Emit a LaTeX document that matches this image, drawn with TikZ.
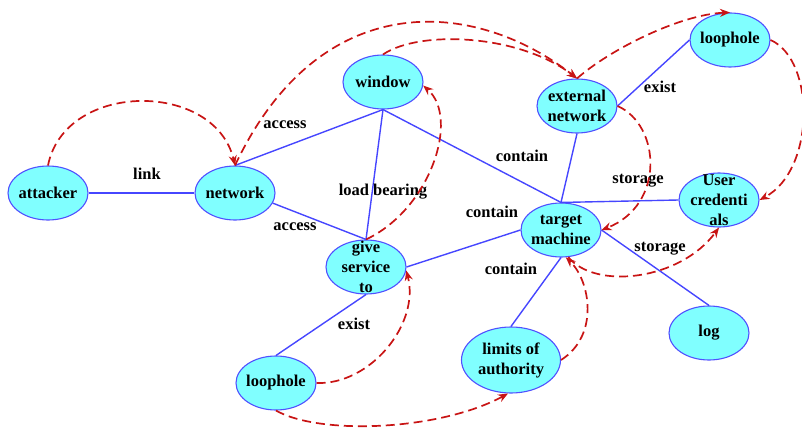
\documentclass[tikz,border=0pt]{standalone}
\usepackage{fontspec}
\setmainfont{Liberation Serif}
\usetikzlibrary{shapes.geometric,arrows.meta}
\definecolor{entfill}{RGB}{128,255,255}
\definecolor{entline}{RGB}{80,80,255}
\definecolor{linkblue}{RGB}{70,70,255}
\definecolor{flowred}{RGB}{200,20,20}
\begin{document}
\begin{tikzpicture}[x=1pt,y=-1pt,
  ent/.style={ellipse, draw=entline, line width=1.1pt, fill=entfill,
              minimum width=80pt, minimum height=54pt, inner sep=0pt},
  bigent/.style={ent, minimum width=99pt, minimum height=66pt},
  txt/.style={font=\fontsize{16.5}{20}\selectfont\bfseries, align=center, inner sep=0pt},
  elbl/.style={font=\fontsize{16.5}{20}\selectfont\bfseries, inner sep=0pt},
  rel/.style={draw=linkblue, line width=1.4pt},
  flow/.style={draw=flowred, line width=1.7pt, dash pattern=on 9pt off 5pt,
               -{Stealth[length=10pt,width=8pt]}}]
\useasboundingbox (0,0) rectangle (802,428);

% entities
\node[ent, label={[txt]center:attacker}] (att) at (48,193) {};
\node[ent, label={[txt]center:network}] (net) at (235,193) {};
\node[ent, label={[txt]center:window}] (win) at (383,82) {};
\node[ent, label={[txt]center:{external\\network}}] (ext) at (577,106) {};
\node[ent, label={[txt]center:loophole}] (lp1) at (730,40) {};
\node[ent, label={[txt]center:{User\\credenti\\als}}] (uc) at (719,200) {};
\node[ent, label={[txt]center:{target\\machine}}] (tm) at (561,230) {};
\node[ent, label={[txt]center:{give\\service\\to}}] (gs) at (366,267) {};
\node[ent, label={[txt]center:loophole}] (lp2) at (276,383) {};
\node[bigent, label={[txt]center:{limits of\\authority}}] (lim) at (511,360) {};
\node[ent, label={[txt]center:log}] (log) at (709,333) {};

% relations
\draw[rel] (att.east) -- (net.west);
\draw[rel] (net.north) -- (win.south);
\draw[rel] (net.-15) -- (gs.north);
\draw[rel] (win.south) -- (gs.north);
\draw[rel] (win.south) -- (tm.north);
\draw[rel] (ext.south) -- (tm.north);
\draw[rel] (ext.east) -- (lp1.west);
\draw[rel] (tm.north) -- (uc.west);
\draw[rel] (tm.west) -- (gs.east);
\draw[rel] (tm.south) -- (lim.north);
\draw[rel] (tm.east) -- (log.north);
\draw[rel] (gs.south) -- (lp2.north);

% relation labels
\node[elbl] (l1) at (147,174) {link};
\node[elbl] (l2) at (285,125) {access};
\node[elbl] (l3) at (295,227) {access};
\node[elbl] (l4) at (383,192) {load bearing};
\node[elbl] (l5) at (522,156) {contain};
\node[elbl] (l6) at (492,212) {contain};
\node[elbl] (l7) at (511,269) {contain};
\node[elbl] (l8) at (660,87) {exist};
\node[elbl] (l9) at (638,181) {storage};
\node[elbl] (l10) at (660,249) {storage};
\node[elbl] (l11) at (354,324) {exist};

% attack flow
\draw[flow] (att.north) .. controls +(17,-85) and +(-20,-85) .. (net.north);
\draw[flow] (net.north) .. controls +(85,-180) and +(-102,-80) .. (ext.north);
\draw[flow] (win.north) .. controls +(37,-25) and +(-57,-44) .. (ext.north);
\draw[flow] (ext.north) .. controls +(33,-29) and +(-50,2) .. (lp1.north);
\draw[flow] (lp1.east) .. controls +(45,20) and +(56,-30) .. (uc.east);
\draw[flow] (ext.east) .. controls +(43,19) and +(64,-25) .. (tm.east);
\draw[flow] (tm.-75) .. controls +(27,33) and +(-39,53) .. (uc.south);
\draw[flow] (lim.east) .. controls +(39,-25) and +(24,23) .. (tm.-80);
\draw[flow] (lp2.east) .. controls +(54,2) and +(14,53) .. (gs.-5);
\draw[flow] (lp2.south) .. controls +(44,25) and +(-68,37) .. (lim.-95);
\draw[flow] (gs.north) .. controls +(64,-30) and +(37,33) .. (win.-5);
\end{tikzpicture}
\end{document}
